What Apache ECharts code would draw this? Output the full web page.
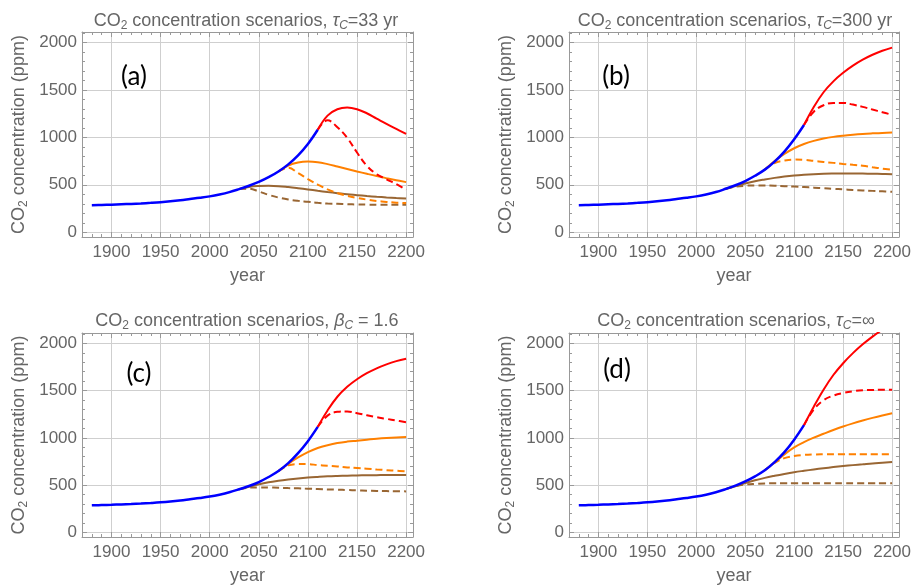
<!DOCTYPE html>
<html>
<head>
<meta charset="utf-8">
<script src="https://cdn.jsdelivr.net/npm/echarts@6/dist/echarts.min.js"></script>
<style>
html, body { margin: 0; padding: 0; background: #fff; }
#chart { width: 914px; height: 588px; }
</style>
</head>
<body>
<div id="chart"></div>
<script>
// x positions of the curves
const histYears = [1880, 1890, 1900, 1910, 1920, 1930, 1940, 1950, 1960, 1970, 1980, 1990,
                   2000, 2010, 2020, 2030, 2040, 2050, 2060, 2070, 2080, 2090, 2100, 2110];
const brownYears = [2030, 2040, 2050, 2060, 2070, 2080, 2090, 2100, 2110, 2120, 2130, 2140,
                    2150, 2160, 2170, 2180, 2190, 2200];
const orangeYears = [2070, 2080, 2090, 2100, 2110, 2120, 2130, 2140, 2150, 2160, 2170, 2180, 2190, 2200];
const redYears = [2110, 2120, 2130, 2140, 2150, 2160, 2170, 2180, 2190, 2200];

// tick labels
const majorYears = [1900, 1950, 2000, 2050, 2100, 2150, 2200];
const majorPpm = [0, 500, 1000, 1500, 2000];

// (a) tau_C = 33 yr
const blueA = [285, 288, 291, 295, 299, 304, 310, 317, 326, 337, 350, 363, 378, 398, 423, 455, 490, 530, 580, 640, 715, 810, 930, 1080];
const redSolidA = [1080, 1229, 1296, 1314, 1296, 1254, 1198, 1142, 1089, 1036];
const redDashA = [1080, 1180, 1107, 995, 840, 700, 612, 558, 508, 448];
const orangeSolidA = [640, 703, 735, 745, 738, 718, 693, 667, 641, 616, 592, 570, 549, 528];
const orangeDashA = [640, 679, 624, 560, 503, 452, 414, 384, 362, 344, 330, 320, 312, 307];
const brownSolidA = [455, 478, 487, 489, 486, 476, 464, 451, 437, 424, 412, 400, 391, 382, 374, 367, 361, 356];
const brownDashA = [455, 458, 430, 394, 366, 345, 331, 321, 310, 303, 300, 296, 293, 291, 290, 289, 289, 289];

// (b) tau_C = 300 yr
const blueB = [285, 288, 291, 295, 299, 304, 310, 317, 326, 337, 350, 363, 378, 398, 424, 458, 495, 540, 595, 660, 745, 850, 980, 1130];
const redSolidB = [1130, 1320, 1475, 1590, 1680, 1755, 1818, 1870, 1912, 1945];
const redDashB = [1130, 1270, 1338, 1363, 1363, 1345, 1321, 1293, 1265, 1237];
const orangeSolidB = [660, 750, 825, 885, 930, 963, 987, 1005, 1018, 1028, 1036, 1042, 1047, 1050];
const orangeDashB = [660, 730, 755, 766, 763, 752, 741, 731, 720, 710, 700, 685, 671, 657];
const brownSolidB = [458, 487, 513, 537, 556, 573, 587, 598, 606, 612, 616, 618, 619, 619, 618, 617, 615, 612];
const brownDashB = [458, 480, 490, 493, 493, 490, 486, 482, 476, 470, 464, 458, 452, 446, 441, 436, 431, 426];

// (c) beta_C = 1.6
const blueC = [285, 288, 291, 295, 299, 304, 310, 317, 326, 337, 350, 363, 378, 398, 423, 455, 490, 532, 585, 648, 732, 838, 965, 1116];
const redSolidC = [1116, 1290, 1435, 1540, 1620, 1684, 1736, 1778, 1812, 1838];
const redDashC = [1116, 1235, 1275, 1280, 1261, 1239, 1218, 1201, 1183, 1165];
const orangeSolidC = [648, 725, 792, 849, 892, 922, 945, 960, 970, 980, 990, 998, 1004, 1008];
const orangeDashC = [648, 708, 722, 722, 711, 704, 697, 687, 680, 673, 665, 658, 651, 644];
const brownSolidC = [455, 483, 508, 530, 546, 559, 570, 579, 586, 592, 596, 599, 602, 604, 605, 606, 606, 606];
const brownDashC = [455, 472, 475, 474, 472, 468, 465, 461, 458, 454, 451, 447, 444, 441, 438, 436, 434, 433];

// (d) tau_C = infinity
const blueD = [285, 288, 291, 295, 299, 304, 310, 317, 326, 337, 350, 363, 378, 398, 424, 457, 494, 538, 592, 656, 742, 848, 980, 1134];
const redSolidD = [1134, 1330, 1510, 1665, 1790, 1897, 1990, 2072, 2145, 2210];
const redDashD = [1134, 1300, 1398, 1447, 1475, 1493, 1504, 1507, 1510, 1510];
const orangeSolidD = [656, 740, 825, 900, 955, 1002, 1043, 1083, 1120, 1153, 1183, 1211, 1237, 1261];
const orangeDashD = [656, 735, 785, 808, 819, 824, 826, 827, 827, 827, 827, 827, 827, 827];
const brownSolidD = [457, 487, 520, 550, 576, 598, 618, 636, 651, 665, 678, 690, 701, 711, 720, 729, 736, 743];
const brownDashD = [457, 487, 505, 513, 517, 518, 518, 518, 518, 518, 518, 518, 518, 518, 518, 518, 518, 518];

const panels = [
  { tag: '(a)', sym: '{i|τ}{si|C}{n|=33 yr}', blue: blueA, rs: redSolidA, rd: redDashA, os: orangeSolidA, od: orangeDashA, bs: brownSolidA, bd: brownDashA },
  { tag: '(b)', sym: '{i|τ}{si|C}{n|=300 yr}', blue: blueB, rs: redSolidB, rd: redDashB, os: orangeSolidB, od: orangeDashB, bs: brownSolidB, bd: brownDashB },
  { tag: '(c)', sym: '{i|β}{si|C}{n| = 1.6}', blue: blueC, rs: redSolidC, rd: redDashC, os: orangeSolidC, od: orangeDashC, bs: brownSolidC, bd: brownDashC },
  { tag: '(d)', sym: '{i|τ}{si|C}{n|=∞}', blue: blueD, rs: redSolidD, rd: redDashD, os: orangeSolidD, od: orangeDashD, bs: brownSolidD, bd: brownDashD }
];

const grids = [
  { left: 82, top: 32, width: 331, height: 205 },
  { left: 569, top: 32, width: 331, height: 205 },
  { left: 82, top: 333, width: 331, height: 204 },
  { left: 569, top: 333, width: 331, height: 204 }
];
const titlePos = [[246, 21], [735, 21], [247, 321], [736, 321]];
const tagPos = [[134, 77], [616, 77], [139, 374], [617, 370]];

const FONT = 'Liberation Sans';
const TEXT = '#666666';
const FRAME = '#999999';
const GRIDC = '#cfcfcf';

const minorYears = [];
for (let y = 1880; y <= 2200; y += 10) minorYears.push(y);
const minorPpm = [];
for (let v = 0; v <= 2100; v += 100) minorPpm.push(v);

const rich = {
  n: { fontFamily: FONT, fontSize: 18, fontWeight: 'normal', color: TEXT, lineHeight: 22, verticalAlign: 'middle' },
  s: { fontFamily: FONT, fontSize: 12, fontWeight: 'normal', color: TEXT, lineHeight: 12, verticalAlign: 'bottom' },
  i: { fontFamily: FONT, fontSize: 18, fontWeight: 'normal', color: TEXT, fontStyle: 'italic', lineHeight: 22, verticalAlign: 'middle' },
  si: { fontFamily: FONT, fontSize: 12, fontWeight: 'normal', color: TEXT, fontStyle: 'italic', lineHeight: 12, verticalAlign: 'bottom' }
};

function tickAxis(g, dim, pos, values, len, line) {
  return {
    gridIndex: g, type: 'value', position: pos,
    min: dim === 'x' ? 1870 : -50,
    max: dim === 'x' ? 2207 : 2110,
    axisLine: { show: line, onZero: false, lineStyle: { color: FRAME, width: 1 } },
    axisTick: { show: true, inside: true, length: len, customValues: values, lineStyle: { color: FRAME } },
    axisLabel: { show: false },
    splitLine: { show: false }
  };
}

const xAxis = [], yAxis = [], series = [], title = [], graphic = [];

grids.forEach((gr, g) => {
  const xm = tickAxis(g, 'x', 'bottom', majorYears, 5, true);
  xm.axisLabel = { show: true, customValues: majorYears, color: TEXT, fontFamily: FONT, fontSize: 17, margin: 7, formatter: v => String(v) };
  xm.splitLine = { show: true, lineStyle: { color: GRIDC, width: 1 } };
  xm.name = 'year';
  xm.nameLocation = 'middle';
  xm.nameGap = 30;
  xm.nameTextStyle = { color: TEXT, fontFamily: FONT, fontSize: 18 };
  xAxis.push(xm,
    tickAxis(g, 'x', 'bottom', minorYears, 3, false),
    tickAxis(g, 'x', 'top', majorYears, 5, true),
    tickAxis(g, 'x', 'top', minorYears, 3, false));

  const ym = tickAxis(g, 'y', 'left', majorPpm, 5, true);
  ym.axisLabel = { show: true, customValues: majorPpm, color: TEXT, fontFamily: FONT, fontSize: 17, margin: 5, formatter: v => String(v) };
  ym.splitLine = { show: true, lineStyle: { color: GRIDC, width: 1 } };
  ym.name = '{n|CO}{s|2}{n| concentration (ppm)}';
  ym.nameLocation = 'middle';
  ym.nameRotate = 90;
  ym.nameGap = 52;
  ym.nameTextStyle = { rich: rich };
  yAxis.push(ym,
    tickAxis(g, 'y', 'left', minorPpm, 3, false),
    tickAxis(g, 'y', 'right', majorPpm, 5, true),
    tickAxis(g, 'y', 'right', minorPpm, 3, false));

  const p = panels[g];
  const xi = g * 4, yi = g * 4;
  const line = (years, vals, color, dashed, w) => ({
    type: 'line', xAxisIndex: xi, yAxisIndex: yi,
    data: years.map((yr, i) => [yr, vals[i]]),
    smooth: 0.4, showSymbol: false, silent: true,
    lineStyle: { color: color, width: w || 2, type: dashed ? [7, 4] : 'solid' }
  });
  series.push(
    line(brownYears, p.bd, '#996633', true),
    line(brownYears, p.bs, '#996633', false),
    line(orangeYears, p.od, '#ff8000', true),
    line(orangeYears, p.os, '#ff8000', false),
    line(redYears, p.rd, '#ff0000', true),
    line(redYears, p.rs, '#ff0000', false),
    line(histYears, p.blue, '#0000ff', false, 2.5)
  );

  title.push({
    text: '{n|CO}{s|2}{n| concentration scenarios, }' + p.sym,
    left: titlePos[g][0], top: titlePos[g][1],
    textAlign: 'center', textVerticalAlign: 'middle', padding: 0,
    textStyle: { fontWeight: 'normal', fontFamily: FONT, fontSize: 18, color: TEXT, rich: rich }
  });

  graphic.push({
    type: 'text', x: tagPos[g][0], y: tagPos[g][1],
    style: { text: p.tag, fill: '#000', font: '26px Lato', align: 'center', verticalAlign: 'middle' }
  });
});

const chart = echarts.init(document.getElementById('chart'), null, { renderer: 'canvas' });
chart.setOption({
  animation: false,
  backgroundColor: '#ffffff',
  grid: grids,
  xAxis: xAxis,
  yAxis: yAxis,
  title: title,
  graphic: graphic,
  series: series
});
</script>
</body>
</html>
